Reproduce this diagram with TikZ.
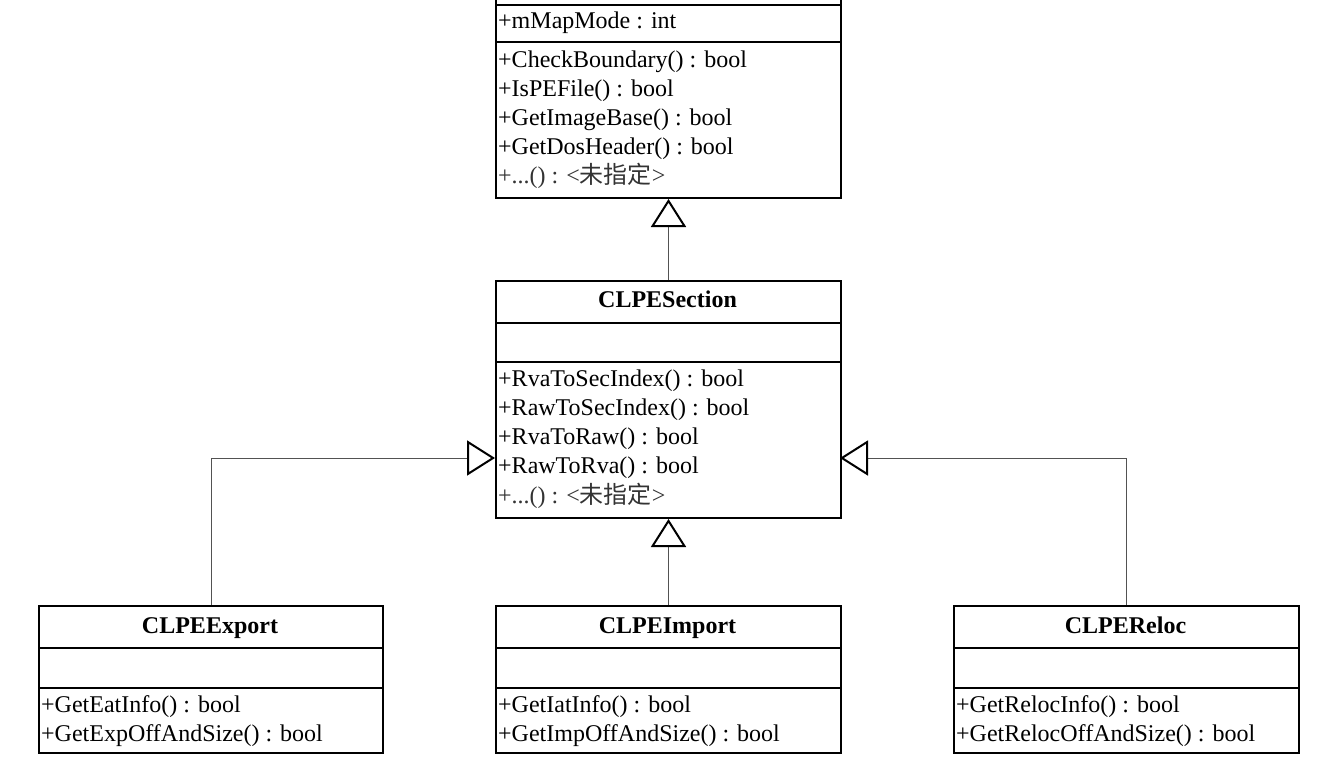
\documentclass[tikz,border=0pt]{standalone}
\usepackage{fontspec}
\setmainfont{Liberation Serif}
\newfontfamily\cjk{Noto Sans CJK SC}
\usetikzlibrary{arrows.meta}
\tikzset{
  classbox/.style={draw=black, line width=2pt, fill=white, inner sep=0pt,
    minimum width=345pt, anchor=north west},
  sepline/.style={draw=black, line width=2pt},
  member/.style={anchor=base west, inner sep=0pt, font=\fontsize{24}{29}\selectfont},
  unspec/.style={member, text=black!80},
  classtitle/.style={anchor=base, inner sep=0pt, font=\fontsize{24}{29}\selectfont\bfseries},
  gen/.style={draw=black!68, line width=1pt,
    -{Triangle[open, length=28pt, width=35pt, line width=2pt, color=black, fill=white]}}
}
\newcommand{\unspectext}{+...() : <{\cjk 未指定}>}
\begin{document}
\begin{tikzpicture}[x=1pt,y=-1pt]
\useasboundingbox (0,0) rectangle (1322,774);
\fill[white] (0,0) rectangle (1322,774);
\clip (0,0) rectangle (1322,774);

% ---------- base class (cut off at top) ----------
\node[classbox, minimum height=257pt] (base) at (495,-60) {};
\draw[sepline] (base.west |- 0,5) -- (base.east |- 0,5);
\draw[sepline] (base.west |- 0,42) -- (base.east |- 0,42);
\node[member] (b1) at (498,28) {+mMapMode : int};
\node[member] (b2) at (498,67) {+CheckBoundary() : bool};
\node[member] (b3) at (498,96) {+IsPEFile() : bool};
\node[member] (b4) at (498,125) {+GetImageBase() : bool};
\node[member] (b5) at (498,154) {+GetDosHeader() : bool};
\node[unspec] (b6) at (498,183) {\unspectext};

% ---------- CLPESection ----------
\node[classbox, minimum height=237pt] (sec) at (495,280) {};
\draw[sepline] (sec.west |- 0,323) -- (sec.east |- 0,323);
\draw[sepline] (sec.west |- 0,362) -- (sec.east |- 0,362);
\node[classtitle] (sect) at (667.5,307) {CLPESection};
\node[member] (s1) at (498,386) {+RvaToSecIndex() : bool};
\node[member] (s2) at (498,415) {+RawToSecIndex() : bool};
\node[member] (s3) at (498,444) {+RvaToRaw() : bool};
\node[member] (s4) at (498,473) {+RawToRva() : bool};
\node[unspec] (s5) at (498,503) {\unspectext};

% ---------- CLPEExport ----------
\node[classbox, minimum width=344pt, minimum height=147pt] (export) at (38,605) {};
\draw[sepline] (export.west |- 0,648) -- (export.east |- 0,648);
\draw[sepline] (export.west |- 0,688) -- (export.east |- 0,688);
\node[classtitle] (expt) at (210,633) {CLPEExport};
\node[member] (e1) at (41,712) {+GetEatInfo() : bool};
\node[member] (e2) at (41,741) {+GetExpOffAndSize() : bool};

% ---------- CLPEImport ----------
\node[classbox, minimum height=147pt] (import) at (495,605) {};
\draw[sepline] (import.west |- 0,648) -- (import.east |- 0,648);
\draw[sepline] (import.west |- 0,688) -- (import.east |- 0,688);
\node[classtitle] (impt) at (667.5,633) {CLPEImport};
\node[member] (i1) at (498,712) {+GetIatInfo() : bool};
\node[member] (i2) at (498,741) {+GetImpOffAndSize() : bool};

% ---------- CLPEReloc ----------
\node[classbox, minimum height=147pt] (reloc) at (953,605) {};
\draw[sepline] (reloc.west |- 0,648) -- (reloc.east |- 0,648);
\draw[sepline] (reloc.west |- 0,688) -- (reloc.east |- 0,688);
\node[classtitle] (relt) at (1125.5,633) {CLPEReloc};
\node[member] (r1) at (956,712) {+GetRelocInfo() : bool};
\node[member] (r2) at (956,741) {+GetRelocOffAndSize() : bool};

% ---------- generalisation connectors ----------
\coordinate (secL) at (495,458);
\coordinate (secR) at (840,458);
\draw[gen] (sec.north) -- (base.south);
\draw[gen] (import.north) -- (sec.south);
\draw[gen] (export.north) |- (secL);
\draw[gen] (reloc.north) |- (secR);
\end{tikzpicture}
\end{document}
